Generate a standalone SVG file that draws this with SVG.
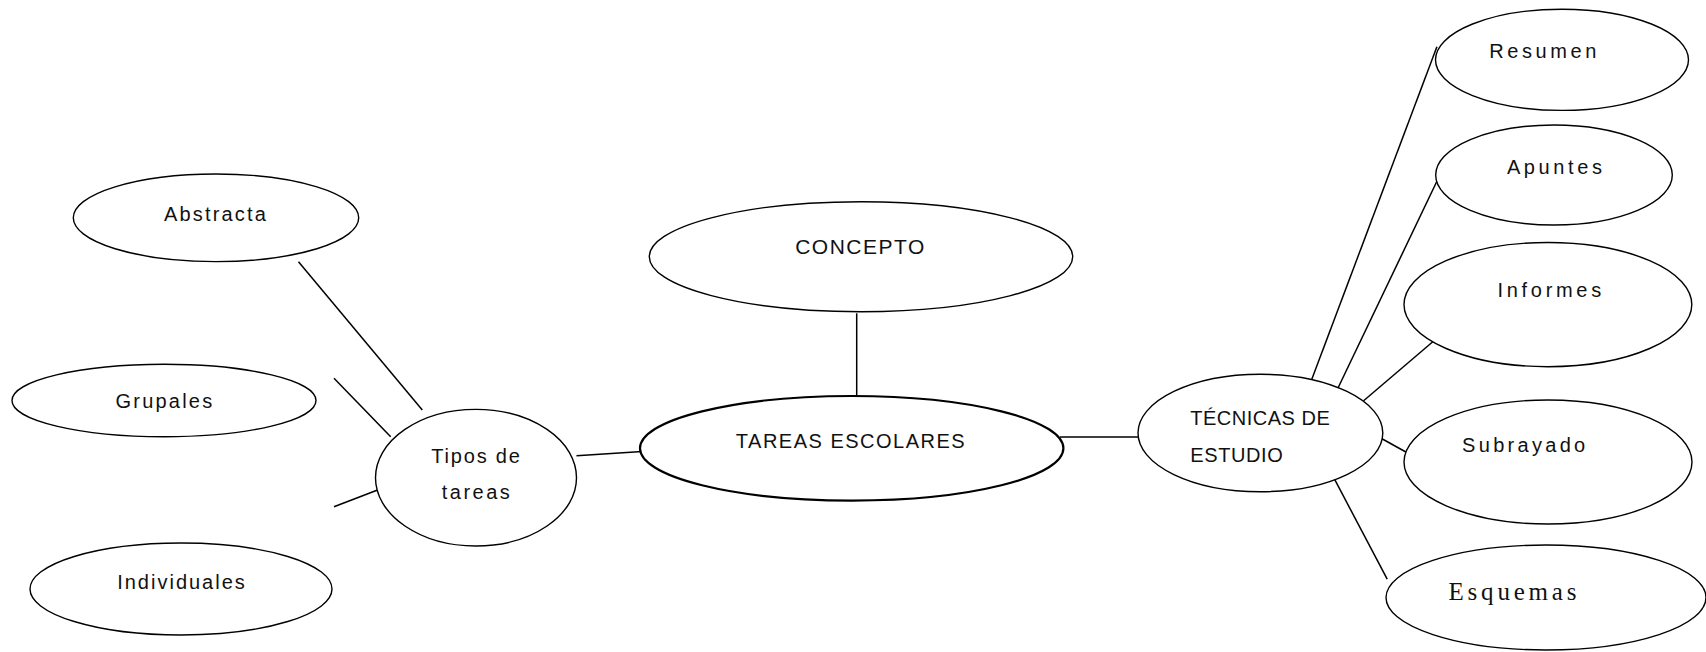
<svg xmlns="http://www.w3.org/2000/svg" width="1706" height="652" viewBox="0 0 1706 652">
<style>
  .n ellipse { fill: #fff; stroke: #000; stroke-width: 1.4; }
  .n.main ellipse { stroke-width: 2.2; }
  .n text { font-family: "Liberation Sans", Arial, sans-serif; font-size: 20px; fill: #111; text-anchor: middle; letter-spacing: 2.2px; }
  .n text.serif { font-family: "Liberation Serif", "Times New Roman", serif; font-size: 25px; letter-spacing: 3.8px; }
  #edges line { stroke: #000; stroke-width: 1.5; }
</style>
<rect width="1706" height="652" fill="#fff"/>
<g id="edges">
  <line x1="298.5" y1="261.7" x2="422.3" y2="410"/>
  <line x1="334" y1="378.3" x2="390.7" y2="436.7"/>
  <line x1="334" y1="506.7" x2="377.6" y2="490"/>
  <line x1="576.5" y1="455.7" x2="650" y2="451"/>
  <line x1="856.7" y1="313.3" x2="856.7" y2="399.3"/>
  <line x1="1060" y1="437" x2="1138" y2="437"/>
  <line x1="1308.7" y1="387.5" x2="1436.9" y2="46.7"/>
  <line x1="1331.9" y1="400.8" x2="1436.9" y2="181.3"/>
  <line x1="1363.6" y1="400.8" x2="1436.9" y2="338.3"/>
  <line x1="1379.7" y1="437.5" x2="1405.9" y2="452"/>
  <line x1="1331.9" y1="474.2" x2="1387.2" y2="579.2"/>
</g>
<g id="abstracta" class="n"><ellipse cx="216" cy="217.8" rx="142.7" ry="43.8"/><text x="216" y="220.7" style="letter-spacing:2.15px">Abstracta</text></g>
<g id="grupales" class="n"><ellipse cx="164" cy="400.5" rx="152" ry="36.2"/><text x="165" y="408.3">Grupales</text></g>
<g id="individuales" class="n"><ellipse cx="181" cy="589" rx="151" ry="46"/><text x="182" y="589" style="letter-spacing:2px">Individuales</text></g>
<g id="tipos" class="n"><ellipse cx="476" cy="477.7" rx="100.5" ry="68.3"/><text x="476.5" y="462.7" style="letter-spacing:1.8px">Tipos de</text><text x="477" y="499.3" style="letter-spacing:2.5px">tareas</text></g>
<g id="concepto" class="n"><ellipse cx="861" cy="256.7" rx="211.7" ry="55"/><text x="860.5" y="254.3" style="font-size:21px;letter-spacing:1.5px">CONCEPTO</text></g>
<g id="tareas" class="n main"><ellipse cx="851.7" cy="448.3" rx="211.7" ry="52.3"/><text x="851" y="448.3" style="letter-spacing:1.5px">TAREAS ESCOLARES</text></g>
<g id="tecnicas" class="n"><ellipse cx="1260.4" cy="433" rx="122.4" ry="58.7"/><text x="1190.3" y="425" style="text-anchor:start;letter-spacing:0.5px">TÉCNICAS DE</text><text x="1190.3" y="461.7" style="text-anchor:start;letter-spacing:0.6px">ESTUDIO</text></g>
<g id="resumen" class="n"><ellipse cx="1562" cy="59.8" rx="126.5" ry="50.6"/><text x="1544.6" y="58.3" style="letter-spacing:3.6px">Resumen</text></g>
<g id="apuntes" class="n"><ellipse cx="1554" cy="175" rx="118.3" ry="50"/><text x="1556.2" y="174.2" style="letter-spacing:3.6px">Apuntes</text></g>
<g id="informes" class="n"><ellipse cx="1547.9" cy="304.6" rx="143.9" ry="62.1"/><text x="1551.2" y="297" style="letter-spacing:3.7px">Informes</text></g>
<g id="subrayado" class="n"><ellipse cx="1548" cy="462" rx="144" ry="62"/><text x="1525.3" y="452" style="letter-spacing:3.3px">Subrayado</text></g>
<g id="esquemas" class="n"><ellipse cx="1546" cy="597.5" rx="160" ry="52.5"/><text class="serif" x="1514.4" y="600">Esquemas</text></g>
</svg>
